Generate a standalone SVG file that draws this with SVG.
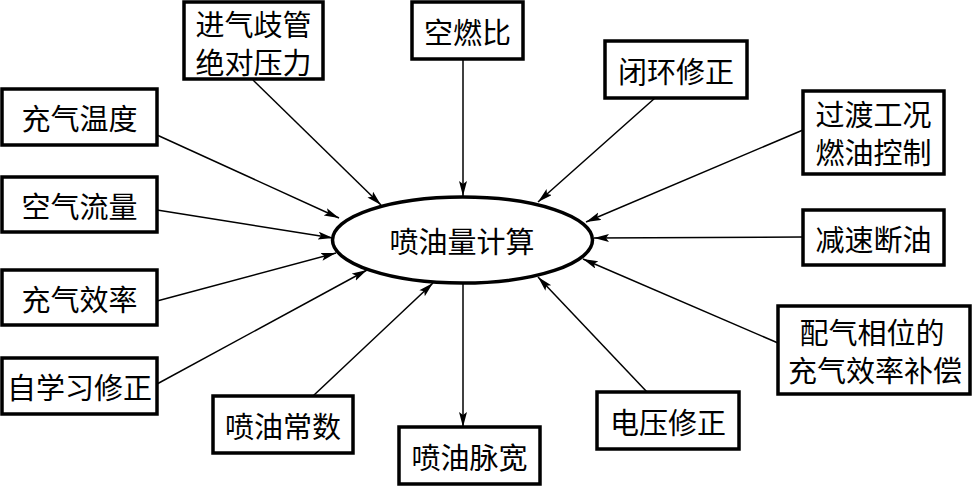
<svg xmlns="http://www.w3.org/2000/svg" width="973" height="486" viewBox="0 0 973 486">
<style>
.box{fill:#fff;stroke:#000;stroke-width:3.5}
.t{font-family:"Noto Sans CJK SC","Noto Sans CJK JP",sans-serif;font-size:29px;fill:#000;text-anchor:middle;dominant-baseline:central}
.c{stroke:#000;stroke-width:1.5;fill:none;marker-end:url(#ah)}
</style>
<defs>
<marker id="ah" markerUnits="userSpaceOnUse" markerWidth="16" markerHeight="10" refX="15" refY="4" orient="auto">
<path d="M0,0 L15,4 L0,8 L3,4 z" fill="#000"/>
</marker>
</defs>
<rect width="973" height="486" fill="#fff"/>
<g id="connectors">
<line class="c" x1="253" y1="80" x2="381" y2="205"/>
<line class="c" x1="463" y1="59" x2="463" y2="196"/>
<line class="c" x1="655" y1="98" x2="538" y2="202"/>
<line class="c" x1="803" y1="130" x2="586" y2="222"/>
<line class="c" x1="803" y1="237" x2="594" y2="238"/>
<line class="c" x1="157" y1="135" x2="339" y2="218"/>
<line class="c" x1="157" y1="210" x2="333" y2="238"/>
<line class="c" x1="157" y1="301" x2="336" y2="253"/>
<line class="c" x1="157" y1="384" x2="367" y2="270"/>
<line class="c" x1="313" y1="396" x2="433" y2="283"/>
<line class="c" x1="463" y1="283" x2="463" y2="427"/>
<line class="c" x1="647" y1="392" x2="538" y2="277"/>
<line class="c" x1="778" y1="343" x2="583" y2="259"/>
</g>
<g id="n-center">
<ellipse cx="462.5" cy="240" rx="130" ry="43" fill="#fff" stroke="#000" stroke-width="3.5"/>
<text class="t" x="462" y="240">喷油量计算</text>
</g>
<g id="n-map">
<rect class="box" x="184" y="2" width="139" height="77"/>
<text class="t"><tspan x="253.5" y="23">进气歧管</tspan><tspan x="253.5" y="61">绝对压力</tspan></text>
</g>
<g id="n-afr">
<rect class="box" x="412" y="2" width="111" height="57"/>
<text class="t" x="467.5" y="31">空燃比</text>
</g>
<g id="n-closed">
<rect class="box" x="605" y="41" width="142" height="57"/>
<text class="t" x="676" y="69.5">闭环修正</text>
</g>
<g id="n-trans">
<rect class="box" x="803" y="91" width="141" height="83"/>
<text class="t"><tspan x="873.5" y="113">过渡工况</tspan><tspan x="873.5" y="151">燃油控制</tspan></text>
</g>
<g id="n-decel">
<rect class="box" x="803" y="210" width="141" height="55"/>
<text class="t" x="873.5" y="238">减速断油</text>
</g>
<g id="n-valve">
<rect class="box" x="778" y="306" width="192" height="88"/>
<text class="t"><tspan x="872" y="331">配气相位的</tspan><tspan x="875" y="369">充气效率补偿</tspan></text>
</g>
<g id="n-volt">
<rect class="box" x="597" y="392" width="142" height="57"/>
<text class="t" x="668" y="420.5">电压修正</text>
</g>
<g id="n-pw">
<rect class="box" x="399" y="427" width="141" height="57"/>
<text class="t" x="469.5" y="455.5">喷油脉宽</text>
</g>
<g id="n-const">
<rect class="box" x="213" y="396" width="140" height="57"/>
<text class="t" x="283" y="424.5">喷油常数</text>
</g>
<g id="n-learn">
<rect class="box" x="2" y="358" width="155" height="56"/>
<text class="t" x="79.5" y="386">自学习修正</text>
</g>
<g id="n-ve">
<rect class="box" x="2" y="270" width="155" height="55"/>
<text class="t" x="79.5" y="297.5">充气效率</text>
</g>
<g id="n-airflow">
<rect class="box" x="2" y="177" width="155" height="55"/>
<text class="t" x="79.5" y="204.5">空气流量</text>
</g>
<g id="n-temp">
<rect class="box" x="2" y="89" width="155" height="56"/>
<text class="t" x="79.5" y="117">充气温度</text>
</g>
</svg>
